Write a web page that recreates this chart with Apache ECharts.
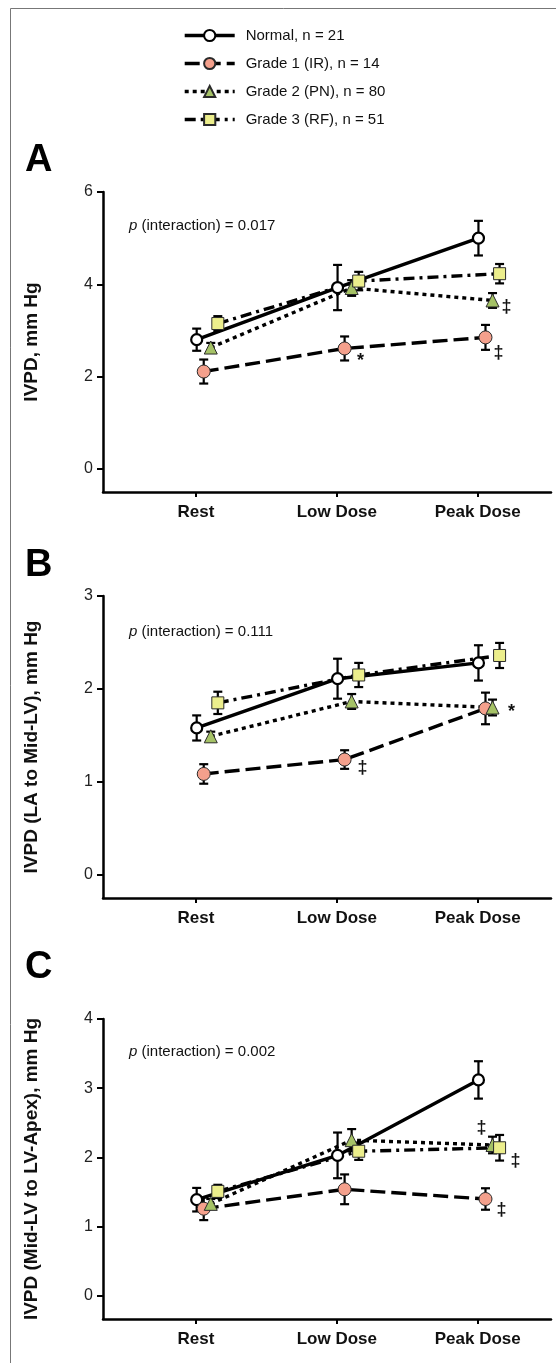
<!DOCTYPE html>
<html><head><meta charset="utf-8">
<script src="https://cdn.jsdelivr.net/npm/echarts@6/dist/echarts.min.js"></script>
<style>html,body{margin:0;padding:0;background:#fff}#c{width:556px;height:1363px}</style>
</head><body><div id="c"></div>
<script>
// ---------- DATA ----------
const categories = ['Rest', 'Low Dose', 'Peak Dose'];
const groupNames = ['Normal, n = 21', 'Grade 1 (IR), n = 14', 'Grade 2 (PN), n = 80', 'Grade 3 (RF), n = 51'];

// Panel A: IVPD, mm Hg
const A_normal    = [2.80, 3.93, 5.00];
const A_normal_se = [0.24, 0.49, 0.375];
const A_grade1    = [2.11, 2.61, 2.85];
const A_grade1_se = [0.26, 0.26, 0.27];
const A_grade2    = [2.63, 3.92, 3.65];
const A_grade2_se = [0.10, 0.17, 0.16];
const A_grade3    = [3.15, 4.07, 4.23];
const A_grade3_se = [0.16, 0.20, 0.21];
const A_yTicks = [0, 2, 4, 6];
const A_p = '0.017';
// [category index, group index, symbol]
const A_marks = [[1, 1, '*'], [2, 2, '‡'], [2, 1, '‡']];

// Panel B: IVPD (LA to Mid-LV), mm Hg
const B_normal    = [1.58, 2.11, 2.28];
const B_normal_se = [0.135, 0.215, 0.19];
const B_grade1    = [1.085, 1.24, 1.79];
const B_grade1_se = [0.105, 0.10, 0.17];
const B_grade2    = [1.49, 1.865, 1.80];
const B_grade2_se = [0.05, 0.08, 0.085];
const B_grade3    = [1.85, 2.15, 2.36];
const B_grade3_se = [0.12, 0.13, 0.135];
const B_yTicks = [0, 1, 2, 3];
const B_p = '0.111';
const B_marks = [[1, 1, '‡'], [2, 2, '*']];

// Panel C: IVPD (Mid-LV to LV-Apex), mm Hg
const C_normal    = [1.39, 2.03, 3.12];
const C_normal_se = [0.17, 0.33, 0.27];
const C_grade1    = [1.26, 1.54, 1.40];
const C_grade1_se = [0.165, 0.215, 0.155];
const C_grade2    = [1.33, 2.25, 2.18];
const C_grade2_se = [0.07, 0.16, 0.12];
const C_grade3    = [1.51, 2.09, 2.14];
const C_grade3_se = [0.095, 0.125, 0.185];
const C_yTicks = [0, 1, 2, 3, 4];
const C_p = '0.002';
const C_marks = [[2, 2, '‡'], [2, 3, '‡'], [2, 1, '‡']];

// ---------- STYLE / LAYOUT ----------
const FONT = "'Liberation Sans', Arial, Helvetica, sans-serif";
const xOffsets = [0.005, 0.055, 0.105, 0.155];
const seriesStyles = [
  {symbol: 'circle',   size: 11, fill: '#ffffff', border: '#000000', bw: 2.2, dash: 'solid'},
  {symbol: 'circle',   size: 13, fill: '#F4A08C', border: '#2a2a2a', bw: 1, dash: [15, 6]},
  {symbol: 'triangle', size: 13, fill: '#A5C266', border: '#2a2a2a', bw: 1, dash: [4, 4]},
  {symbol: 'rect',     size: 12, fill: '#ECEE8C', border: '#2a2a2a', bw: 1, dash: [11, 5, 3, 5]}
];
const panels = [
  {means: [A_normal, A_grade1, A_grade2, A_grade3], ses: [A_normal_se, A_grade1_se, A_grade2_se, A_grade3_se],
   yMin: -0.5, yMax: 6, yTicks: A_yTicks, yName: 'IVPD, mm Hg', p: A_p, marks: A_marks,
   markOffsets: [[16, 13], [14, 7], [13, 16]], top: 192, height: 300, letter: 'A', letterY: 161, pY: 226},
  {means: [B_normal, B_grade1, B_grade2, B_grade3], ses: [B_normal_se, B_grade1_se, B_grade2_se, B_grade3_se],
   yMin: -0.25, yMax: 3, yTicks: B_yTicks, yName: 'IVPD (LA to Mid-LV), mm Hg', p: B_p, marks: B_marks,
   markOffsets: [[18, 8], [19, 5]], top: 596, height: 302, letter: 'B', letterY: 566, pY: 632},
  {means: [C_normal, C_grade1, C_grade2, C_grade3], ses: [C_normal_se, C_grade1_se, C_grade2_se, C_grade3_se],
   yMin: -1/3, yMax: 4, yTicks: C_yTicks, yName: 'IVPD (Mid-LV to LV-Apex), mm Hg', p: C_p, marks: C_marks,
   markOffsets: [[-11, -17], [16, 13], [16, 11]], top: 1019, height: 300, letter: 'C', letterY: 968, pY: 1052}
];

function errRender(params, api) {
  const x = api.value(0), lo = api.value(1), hi = api.value(2);
  const t = api.coord([x, hi]), b = api.coord([x, lo]);
  const hw = 4.5, st = {stroke: '#000', lineWidth: 2.2};
  return {type: 'group', children: [
    {type: 'line', shape: {x1: t[0], y1: t[1], x2: b[0], y2: b[1]}, style: st},
    {type: 'line', shape: {x1: t[0] - hw, y1: t[1], x2: t[0] + hw, y2: t[1]}, style: st},
    {type: 'line', shape: {x1: b[0] - hw, y1: b[1], x2: b[0] + hw, y2: b[1]}, style: st}
  ]};
}
function markRender(params, api) {
  const c = api.coord([api.value(0), api.value(1)]);
  const item = markData[params.seriesIndex][params.dataIndex];
  return {type: 'text', x: c[0] + item[3], y: c[1] + item[4],
    style: {text: item[2], font: 'bold 18px ' + FONT, fill: '#111', align: 'center', verticalAlign: 'middle'}};
}

const grids = [], xAxes = [], yAxes = [], series = [], graphics = [];
const markData = {};
panels.forEach((p, i) => {
  grids.push({left: 103, right: 5, top: p.top, height: p.height, containLabel: false, outerBoundsMode: 'none'});
  xAxes.push({gridIndex: i, type: 'value', min: 0.34, max: 3.52,
    axisLine: {show: true, onZero: false, lineStyle: {color: '#000', width: 2.5}},
    axisTick: {show: true, customValues: [1, 2, 3], length: 5, lineStyle: {color: '#000', width: 2}},
    axisLabel: {show: true, customValues: [1, 2, 3], formatter: v => categories[Math.round(v) - 1],
      fontFamily: FONT, fontWeight: 'bold', fontSize: 17, color: '#111', margin: 12},
    splitLine: {show: false}});
  yAxes.push({gridIndex: i, type: 'value', min: p.yMin, max: p.yMax,
    axisLine: {show: true, onZero: false, lineStyle: {color: '#000', width: 2.5}},
    axisTick: {show: true, customValues: p.yTicks, length: 6, lineStyle: {color: '#000', width: 2}},
    axisLabel: {show: true, customValues: p.yTicks, fontFamily: FONT, fontSize: 16, color: '#222', margin: 10},
    splitLine: {show: false},
    name: p.yName, nameLocation: 'middle', nameGap: 62,
    nameTextStyle: {fontFamily: FONT, fontWeight: 'bold', fontSize: 19, color: '#111'}});

  p.means.forEach((m, g) => {
    series.push({type: 'custom', xAxisIndex: i, yAxisIndex: i, z: 2, silent: true,
      data: m.map((v, k) => [k + 1 + xOffsets[g], v - p.ses[g][k], v + p.ses[g][k]]),
      renderItem: errRender, animation: false});
  });
  p.means.forEach((m, g) => {
    const s = seriesStyles[g];
    series.push({type: 'line', name: groupNames[g], xAxisIndex: i, yAxisIndex: i, z: 3,
      data: m.map((v, k) => [k + 1 + xOffsets[g], v]),
      symbol: s.symbol, symbolSize: s.size, showSymbol: true,
      lineStyle: {color: '#000', width: 3.4, type: s.dash},
      itemStyle: {color: s.fill, borderColor: s.border, borderWidth: s.bw, opacity: 1},
      emphasis: {disabled: true}, animation: false});
  });
  const md = p.marks.map((mk, j) => {
    const [cat, grp, sym] = mk;
    return [cat + 1 + xOffsets[grp], p.means[grp][cat], sym, p.markOffsets[j][0], p.markOffsets[j][1]];
  });
  markData[series.length] = md;
  series.push({type: 'custom', xAxisIndex: i, yAxisIndex: i, z: 4, silent: true,
    data: md.map(d => [d[0], d[1]]), renderItem: markRender, animation: false});

  graphics.push({type: 'text', x: 25, y: p.letterY,
    style: {text: p.letter, font: 'bold 38px ' + FONT, fill: '#000', verticalAlign: 'middle'}});
  graphics.push({type: 'text', x: 129, y: p.pY,
    style: {text: '{i|p} (interaction) = ' + p.p, font: '15px ' + FONT, fill: '#111', verticalAlign: 'middle',
      rich: {i: {fontStyle: 'italic', fontSize: 15, fontFamily: FONT, fill: '#111'}}}});
});
graphics.push({type: 'line', shape: {x1: 10.5, y1: 8.5, x2: 556, y2: 8.5}, style: {stroke: '#777', lineWidth: 1}});
graphics.push({type: 'line', shape: {x1: 10.5, y1: 8.5, x2: 10.5, y2: 1363}, style: {stroke: '#777', lineWidth: 1}});

const chart = echarts.init(document.getElementById('c'), null, {renderer: 'canvas'});
chart.setOption({
  animation: false,
  backgroundColor: '#fff',
  grid: grids, xAxis: xAxes, yAxis: yAxes, series: series,
  legend: {data: groupNames, orient: 'vertical', left: 183, top: 28, itemWidth: 50, itemHeight: 14, itemGap: 13,
    selectedMode: false, padding: 0,
    textStyle: {fontFamily: FONT, fontSize: 15, color: '#111', padding: [0, 0, 0, 6]},
    lineStyle: {width: 'inherit'}},
  graphic: graphics
});
</script></body></html>
